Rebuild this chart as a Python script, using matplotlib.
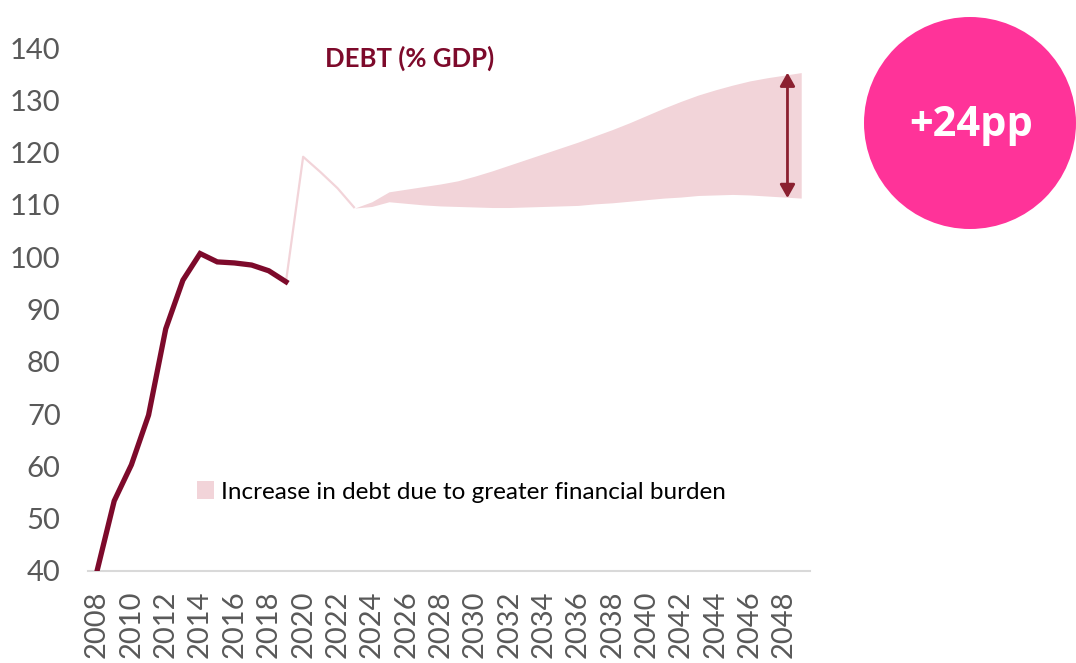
import matplotlib
matplotlib.use("Agg")
import matplotlib.pyplot as plt
from matplotlib.patches import Ellipse, Patch

plt.rcParams['font.family'] = ['Lato', 'DejaVu Sans']

# historical debt ratio (% of GDP)
hist_years = list(range(2008, 2020))
hist_debt = [40.0, 53.4, 60.3, 69.8, 86.3, 95.6, 100.7, 99.1, 98.9, 98.5, 97.4, 95.3]

# short-term path after the break
bridge_years = [2019, 2020, 2021, 2022, 2023]
bridge_debt = [95.3, 119.2, 116.3, 113.2, 109.4]

# projection band: baseline vs. higher financial burden
proj_years = list(range(2023, 2050))
proj_low = [109.4, 109.7, 110.6, 110.3, 110.0, 109.8, 109.7, 109.6, 109.5, 109.5,
            109.6, 109.7, 109.8, 109.9, 110.2, 110.4, 110.7, 111.0, 111.3, 111.5,
            111.8, 111.9, 112.0, 111.9, 111.7, 111.5, 111.3]
proj_high = [109.4, 110.6, 112.5, 113.0, 113.5, 114.0, 114.6, 115.5, 116.5, 117.6,
             118.7, 119.8, 120.9, 122.0, 123.2, 124.4, 125.7, 127.1, 128.5, 129.8,
             131.0, 132.0, 132.9, 133.7, 134.3, 134.8, 135.3]

tick_years = list(range(2008, 2049, 2))

maroon = '#7D0A2B'
pink = '#F2D4D9'
grey = '#595959'

fig = plt.figure(figsize=(10.76, 6.63), dpi=100)
ax = fig.add_axes([0.0822, 0.1388, 0.6704, 0.7888])

ax.fill_between(proj_years, proj_low, proj_high, color=pink, lw=0)
ax.plot(bridge_years, bridge_debt, color=pink, lw=1.6, solid_capstyle='butt')
ax.plot(hist_years, hist_debt, color=maroon, lw=3.8, solid_joinstyle='miter')

# gap between the two scenarios at the end of the horizon
gap = proj_high[-1] - proj_low[-1]
ax.annotate('', xy=(2048.2, proj_high[-1]), xytext=(2048.2, proj_low[-1]),
            arrowprops=dict(arrowstyle='<|-|>,head_length=0.8,head_width=0.45',
                            color='#8B2030', lw=2, shrinkA=0, shrinkB=0))

ax.set_xlim(2007.5, 2049.5)
ax.set_ylim(40, 140)
ax.set_yticks(range(40, 141, 10))
ax.set_xticks(tick_years)
ax.set_xticklabels([str(y) for y in tick_years], rotation=90)
ax.tick_params(axis='y', length=0, pad=20, labelsize=21, labelcolor=grey)
ax.tick_params(axis='x', length=0, pad=14, labelsize=21, labelcolor=grey)
for side in ['top', 'right', 'left']:
    ax.spines[side].set_visible(False)
ax.spines['bottom'].set_color('#D9D9D9')
ax.spines['bottom'].set_linewidth(1.5)
ax.spines['bottom'].set_zorder(0)

leg = ax.legend([Patch(color=pink, lw=0)],
                ['Increase in debt due to greater financial burden'],
                loc='center left', bbox_to_anchor=(0.12, 0.151), frameon=False,
                fontsize=17.5, handlelength=0.7, handleheight=0.7, handletextpad=0.3)

fig.text(410 / 1076, 1 - 58 / 663, 'DEBT (% GDP)', ha='center', va='center',
         fontsize=18.5, fontweight='bold', color=maroon)

fig.add_artist(Ellipse((970 / 1076, 1 - 123 / 663), 212 / 1076, 212 / 663,
                       transform=fig.transFigure, color='#FF3399', lw=0))
fig.text(971 / 1076, 1 - 126 / 663, f'+{gap:.0f}pp', ha='center', va='center',
         fontsize=30, fontweight='bold', color='white', family=['Open Sans', 'DejaVu Sans'])

fig.savefig('out.png', dpi=100)
